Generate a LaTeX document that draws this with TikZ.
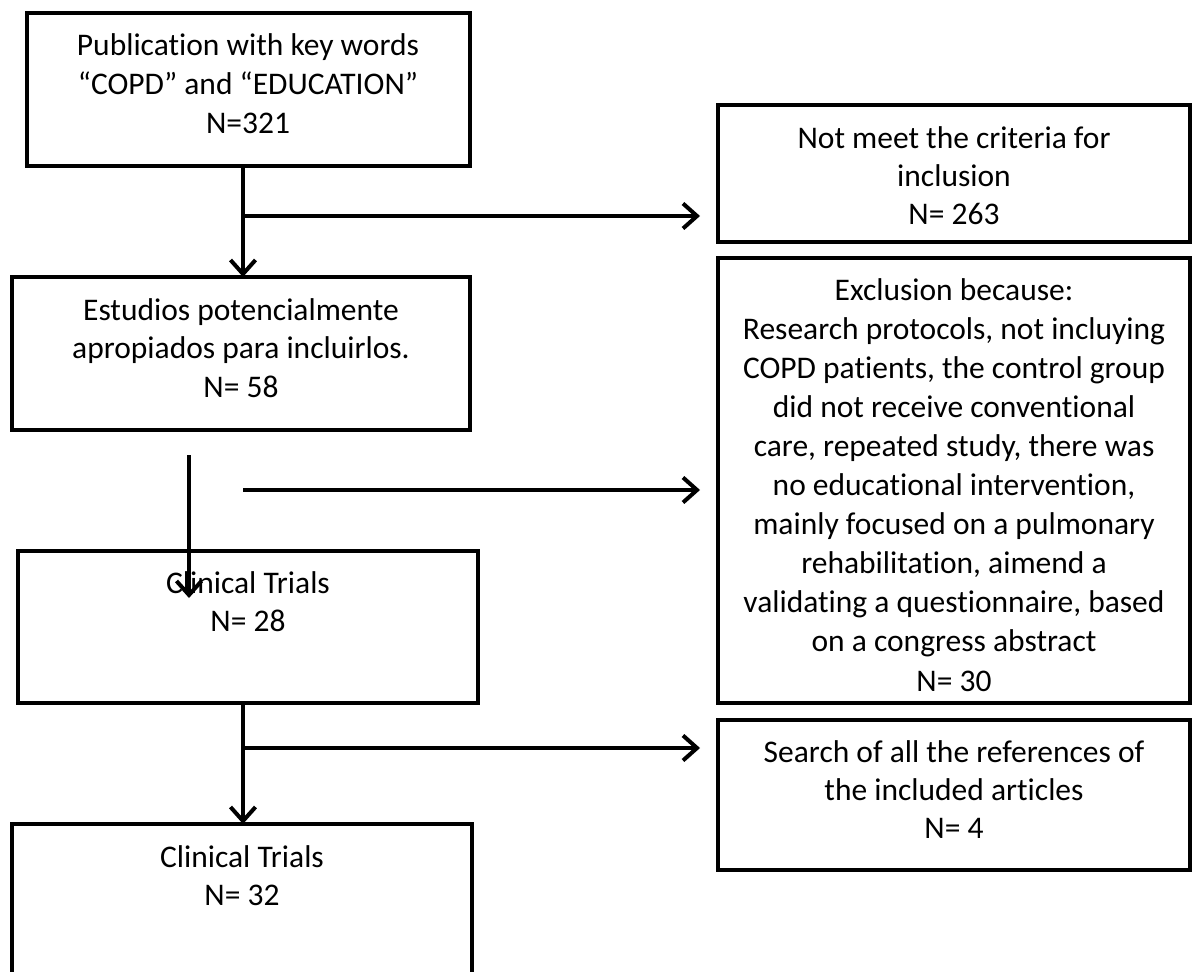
\documentclass[tikz,border=0pt]{standalone}
\usepackage{fontspec}
\setmainfont{Carlito}[Ligatures=NoCommon, RawFeature={-liga;-clig;-dlig}]
\usetikzlibrary{arrows.meta}
\begin{document}
\begin{tikzpicture}[x=1pt,y=-1pt,
  box/.style={draw, line width=4pt, inner sep=0pt, outer sep=0pt},
  arr/.style={line width=4pt, -{Straight Barb[length=14pt,width=25pt,line width=4pt]}},
  txtL/.style={anchor=base, inner sep=0pt, font=\fontsize{31.5}{38.7}\selectfont},
  txtR/.style={anchor=base, inner sep=0pt, font=\fontsize{31.5}{38}\selectfont},
  txtE/.style={anchor=base, inner sep=0pt, font=\fontsize{31.5}{39.1}\selectfont}]
\useasboundingbox (0,0) rectangle (1193,971);
\clip (0,0) rectangle (1193,971);
% boxes (left column)
\node[box, minimum width=443pt, minimum height=153pt] (b1) at (248.5,89.5) {};
\node[box, minimum width=458pt, minimum height=153pt] (b2) at (241,353.5) {};
\node[box, minimum width=460pt, minimum height=152pt] (b3) at (248,627) {};
\node[box, minimum width=460pt, minimum height=200pt] (b4) at (242,924) {};
% boxes (right column)
\node[box, minimum width=472pt, minimum height=137pt] (nm) at (954,173.5) {};
\node[box, minimum width=472pt, minimum height=445pt] (ex) at (954,480.5) {};
\node[box, minimum width=472pt, minimum height=150pt] (sr) at (954,795) {};
% texts
\node[txtL] (t1) at (248,56) {\begin{tabular}[t]{@{}c@{}}Publication with key words\\“COPD” and “EDUCATION”\\N=321\end{tabular}};
\node[txtL] (t2) at (241,320) {\begin{tabular}[t]{@{}c@{}}Estudios potencialmente\\apropiados para incluirlos.\\N= 58\end{tabular}};
\node[txtL] (t3) at (248,593) {\begin{tabular}[t]{@{}c@{}}Clinical Trials\\N= 28\end{tabular}};
\node[txtL] (t4) at (242,867) {\begin{tabular}[t]{@{}c@{}}Clinical Trials\\N= 32\end{tabular}};
\node[txtR] (t5) at (954,148) {\begin{tabular}[t]{@{}c@{}}Not meet the criteria for\\inclusion\\N= 263\end{tabular}};
\node[txtE] (t6) at (954,300) {\begin{tabular}[t]{@{}c@{}}Exclusion because:\\Research protocols, not incluying\\COPD patients, the control group\\did not receive conventional\\care, repeated study, there was\\no educational intervention,\\mainly focused on a pulmonary\\rehabilitation, aimend a\\validating a questionnaire, based\\on a congress abstract\\N= 30\end{tabular}};
\node[txtR] (t7) at (954,762) {\begin{tabular}[t]{@{}c@{}}Search of all the references of\\the included articles\\N= 4\end{tabular}};
% connector coordinates
\coordinate (v1) at (243,0);
\coordinate (j1) at (243,216);
\coordinate (j2) at (243,490);
\coordinate (j3) at (243,748);
\coordinate (s1) at (189,455);
\coordinate (s2) at (189,598);
% connectors
\draw[arr] (b1.south -| v1) -- (b2.north -| v1);
\draw[arr, shorten >=18pt] (j1) -- (nm.west |- j1);
\draw[arr] (s1) -- (s2);
\draw[arr, shorten >=18pt] (j2) -- (ex.west |- j2);
\draw[arr] (b3.south -| v1) -- (b4.north -| v1);
\draw[arr, shorten >=18pt] (j3) -- (sr.west |- j3);
\end{tikzpicture}
\end{document}
